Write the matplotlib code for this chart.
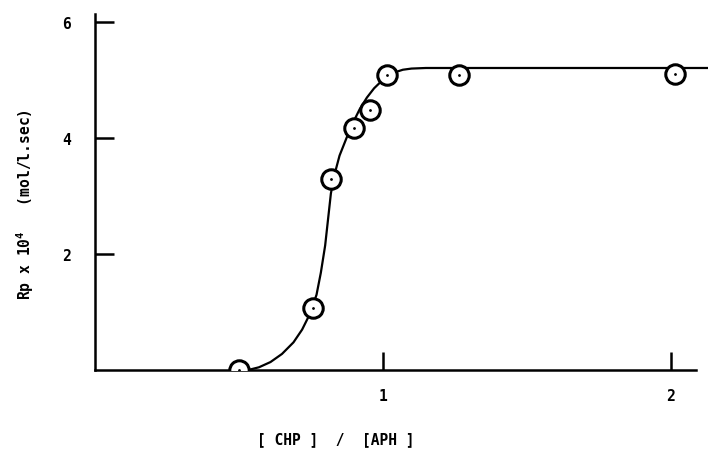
import matplotlib.pyplot as plt

# measured points, [CHP]/[APH] vs Rp x 10^4
ratio = [0.50, 0.757, 0.82, 0.90, 0.955, 1.015, 1.265, 2.017]
rp = [0.0, 1.07, 3.29, 4.17, 4.48, 5.09, 5.09, 5.10]

# hand-drawn curve
curve_x = [0.53, 0.57, 0.61, 0.65, 0.69, 0.72, 0.745, 0.77, 0.785, 0.80, 0.81,
           0.82, 0.835, 0.85, 0.87, 0.89, 0.92, 0.945, 0.97, 0.995, 1.02,
           1.045, 1.07, 1.10, 1.15, 1.30, 1.60, 1.90, 2.13]
curve_y = [0.0, 0.05, 0.14, 0.28, 0.48, 0.70, 0.95, 1.30, 1.68, 2.15, 2.60,
           3.05, 3.42, 3.70, 3.95, 4.20, 4.50, 4.70, 4.86, 4.98, 5.08,
           5.14, 5.18, 5.20, 5.21, 5.21, 5.21, 5.21, 5.21]

plt.rcParams['font.family'] = ['DejaVu Sans Mono']
plt.rcParams['font.size'] = 10.5
plt.rcParams['font.weight'] = 'bold'

fig = plt.figure(figsize=(7.08, 4.56), dpi=100)
ax = fig.add_axes([0.134, 0.186, 0.866, 0.781])

ax.plot(curve_x, curve_y, color='black', lw=1.6, zorder=2)
ax.plot(ratio, rp, 'o', ms=14, mfc='white', mec='black', mew=2.2, zorder=3)
ax.plot(ratio, rp, '.', ms=2, color='black', zorder=4)

ax.set_xlim(0, 2.13)
ax.set_ylim(0, 6.14)
for s in ['top', 'right']:
    ax.spines[s].set_visible(False)
ax.spines['left'].set_linewidth(1.8)
ax.spines['bottom'].set_linewidth(1.8)
ax.spines['bottom'].set_bounds(0, 2.09)

ax.set_xticks([1, 2])
ax.set_xticklabels(['1', '2'])
ax.set_yticks([2, 4, 6])
ax.set_yticklabels(['2', '4', '6'])
ax.tick_params(axis='x', direction='in', length=13, width=1.8, pad=13)
ax.tick_params(axis='y', direction='in', length=14, width=1.8, pad=17)

fig.text(25 / 708, 1 - 205 / 456, r'Rp x 10$^{\mathregular{4}}$   (mol/l.sec)',
         rotation=90, ha='center', va='center')
fig.text(336 / 708, 1 - 440 / 456, '[ CHP ]  /  [APH ]', ha='center', va='center')

fig.savefig('out.png', dpi=100)
